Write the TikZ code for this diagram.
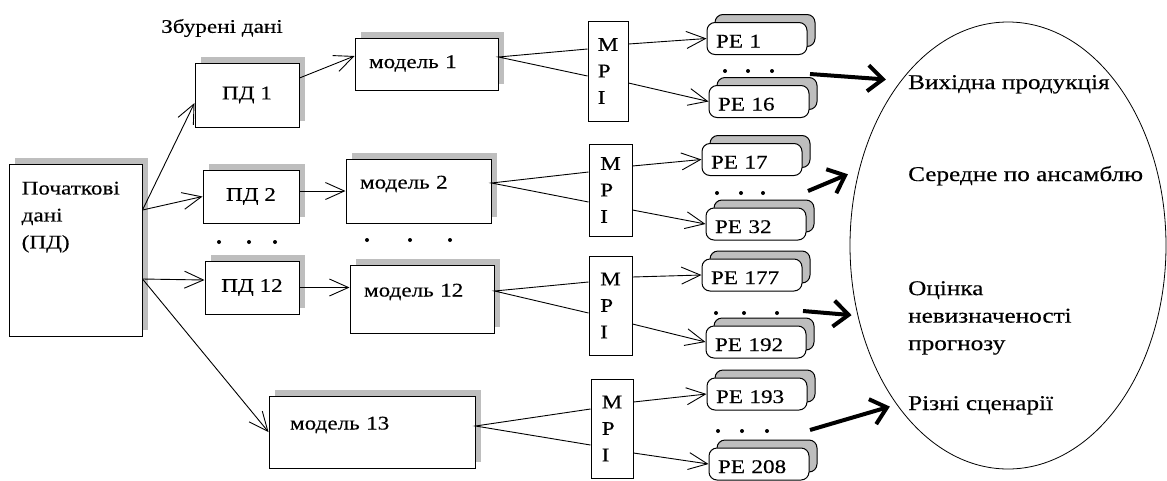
\documentclass[tikz,border=0pt]{standalone}
\usepackage{fontspec}
\setmainfont{Liberation Serif}[FakeStretch=1.2,FakeBold=0.3]
\usepackage{xcolor}
\definecolor{ink}{HTML}{000000}
\definecolor{shade}{HTML}{BEBEBE}
\usepackage{tikz}
\usetikzlibrary{arrows.meta,shadows,shapes.geometric}

\begin{document}
\begin{tikzpicture}[x=1pt,y=-1pt,every node/.style={font=\fontsize{19.3}{26.5}\selectfont,text=ink}]
\tikzstyle{box}=[draw=ink,line width=1pt,fill=white,inner sep=0pt,drop shadow={shadow xshift=6pt,shadow yshift=6pt,fill=shade,draw=none,opacity=1}]
\tikzstyle{model}=[box,align=left,inner xsep=14pt,text height=12pt,text depth=17pt]
\tikzstyle{mpi}=[draw=ink,line width=1pt,fill=white,align=left,inner sep=0pt]
\tikzstyle{pe}=[draw=ink,line width=1pt,fill=white,rounded corners=8pt,copy shadow={shadow xshift=8pt,shadow yshift=8pt,fill=shade,draw=ink},minimum width=100pt,minimum height=32pt,inner xsep=9pt,inner ysep=0pt,text width=82pt,align=left,text height=18pt,text depth=0pt]
\tikzstyle{conn}=[ink,line width=0.9pt,-{Straight Barb[length=19pt,width=17pt]}]
\tikzstyle{link}=[ink,line width=0.9pt]
\tikzstyle{fan}=[ink,line width=4pt,-{Straight Barb[length=15pt,width=26pt]}]
\tikzstyle{result}=[anchor=base west,inner sep=0pt,align=left,font=\fontsize{21}{27.5}\selectfont]
\useasboundingbox (0,0) rectangle (1167,480);

\node[box,minimum width=133pt,minimum height=172pt,label={[anchor=north west,align=left,inner sep=0pt,xshift=13pt,yshift=-18pt,font=\fontsize{19.3}{27}\selectfont]north west:Початкові\\дані\\(ПД)}] (init) at (75.5,250) {};
\node (pert) at (222,28) {Збурені дані};

\node[box,minimum width=104pt,minimum height=64pt] (pd1) at (247,95) {ПД 1};
\node[box,minimum width=96pt,minimum height=53pt] (pd2) at (251,196.5) {ПД 2};
\node[box,minimum width=94pt,minimum height=53pt] (pd12) at (252,287.5) {ПД 12};

\node[model,minimum width=143pt,minimum height=52pt,text width=115pt,text depth=4pt] (m1) at (426.5,64) {модель 1};
\node[model,minimum width=145pt,minimum height=64pt,text width=117pt] (m2) at (418.5,191) {модель 2};
\node[model,minimum width=144pt,minimum height=68pt,text width=116pt] (m12) at (422,299) {модель 12};
\node[model,minimum width=206pt,minimum height=72pt,inner xsep=21pt,text width=164pt] (m13) at (372,432) {модель 13};

\node[mpi,minimum width=40pt,minimum height=100pt] (mpi1) at (608,71) {M\\P\\I};
\node[mpi,minimum width=43pt,minimum height=92pt] (mpi2) at (610.5,190) {M\\P\\I};
\node[mpi,minimum width=43pt,minimum height=99pt] (mpi3) at (610.5,305.5) {M\\P\\I};
\node[mpi,minimum width=42pt,minimum height=99pt] (mpi4) at (612,428.5) {M\\P\\I};

\node[pe] (pe1) at (757,38.5) {PE 1};
\node[pe] (pe16) at (759,101.5) {PE 16};
\node[pe] (pe17) at (752,159.5) {PE 17};
\node[pe] (pe32) at (756,224) {PE 32};
\node[pe] (pe177) at (752,275) {PE 177};
\node[pe] (pe192) at (756,342) {PE 192};
\node[pe] (pe193) at (757,394) {PE 193};
\node[pe] (pe208) at (759,464) {PE 208};

\node[draw=ink,line width=0.8pt,ellipse,minimum width=316pt,minimum height=447pt,inner sep=0pt] (ens) at (1008,245.5) {};
\node[result] (out1) at (908,89) {Вихідна продукція};
\node[result] (out2) at (908,181) {Середне по ансамблю};
\node[result,anchor=north west] (out3) at (908,281) {Оцінка\\невизначеності\\прогнозу};
\node[result] (out4) at (908,410) {Різні сценарії};

\fill[ink] (219,242) circle (2pt) (249,242) circle (2pt) (275,242) circle (2pt);
\fill[ink] (367,240) circle (2pt) (410,240) circle (2pt) (450,240) circle (2pt);
\fill[ink] (725,71) circle (2pt) (748,71) circle (2pt) (772,71) circle (2pt);
\fill[ink] (717,193) circle (2pt) (741,193) circle (2pt) (763,193) circle (2pt);
\fill[ink] (716,313) circle (2pt) (744,313) circle (2pt) (777,313) circle (2pt);
\fill[ink] (718,431) circle (2pt) (742,431) circle (2pt) (767,431) circle (2pt);

\draw[conn] ([yshift=40pt]init.east) -- ([yshift=-8pt]pd1.west);
\draw[conn] ([yshift=40pt]init.east) -- (pd2.west);
\draw[conn] ([yshift=-29pt]init.east) -- ([yshift=7.5pt]pd12.west);
\draw[conn] ([yshift=-29pt]init.east) -- (m13.west);
\draw[conn] ([yshift=17pt]pd1.east) -- ([yshift=8pt]m1.west);
\draw[conn] (pd2.east |- m2.west) -- (m2.west);
\draw[conn] (pd12.east) -- (pd12.east -| m12.west);

\draw[link] ([yshift=22pt]mpi1.west) -- ([yshift=7pt]m1.east) -- ([yshift=-5pt]mpi1.west);
\draw[link] ([yshift=18pt]mpi2.west) -- ([yshift=8pt]m2.east) -- ([yshift=-12pt]mpi2.west);
\draw[link] ([yshift=23.5pt]mpi3.west) -- ([yshift=8pt]m12.east) -- ([yshift=-7.5pt]mpi3.west);
\draw[link] ([yshift=19.5pt]mpi4.west) -- ([yshift=6pt]m13.east) -- ([yshift=-16.5pt]mpi4.west);

\draw[conn] ([yshift=27pt]mpi1.east) -- (pe1.west);
\draw[conn] ([yshift=-12pt]mpi1.east) -- (pe16.west);
\draw[conn] ([yshift=24pt]mpi2.east) -- (pe17.west);
\draw[conn] ([yshift=-20pt]mpi2.east) -- (pe32.west);
\draw[conn] ([yshift=28.5pt]mpi3.east) -- (pe177.west);
\draw[conn] ([yshift=-18.5pt]mpi3.east) -- (pe192.west);
\draw[conn] ([yshift=26.5pt]mpi4.east) -- (pe193.west);
\draw[conn] ([yshift=-24.5pt]mpi4.east) -- (pe208.west);

\coordinate (f1) at (810,74);
\coordinate (f2) at (808,191);
\coordinate (f3) at (803,311);
\coordinate (f4) at (810,430);
\draw[fan,shorten >=15pt] (f1) -- (ens.123.5);
\draw[fan,shorten >=12pt] (f2) -- (ens.153.5);
\draw[fan,shorten >=6pt] (f3) -- (ens.205.5);
\draw[fan,shorten >=7pt] (f4) -- (ens.235.6);
\end{tikzpicture}
\end{document}
